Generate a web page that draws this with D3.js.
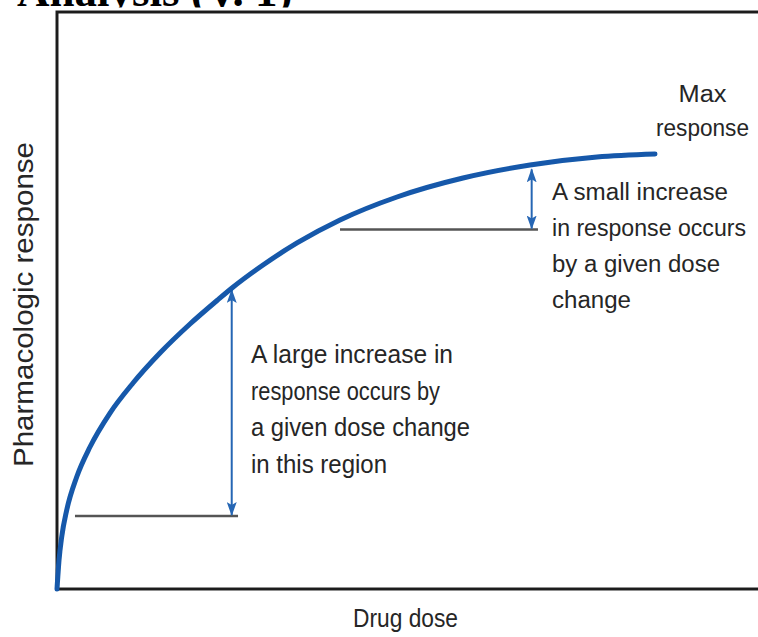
<!DOCTYPE html>
<html>
<head>
<meta charset="utf-8">
<script src="https://cdn.jsdelivr.net/npm/d3@7"></script>
<style>
  html, body { margin: 0; padding: 0; background: #fff; }
  svg { display: block; }
  text { font-family: "Liberation Sans", Arial, sans-serif; fill: #262626; }
</style>
</head>
<body>
<svg id="chart" width="758" height="637"></svg>
<script>
// ---- data (dose and response in arbitrary units 0..100) ----
const doses     = [0, 0.29, 0.67, 1.39, 2.81, 4.71, 7.57, 10.86, 14.71, 19.0, 22.86, 25.0, 29.43, 34.29, 40.43, 48.57, 58.0, 67.57, 77.14, 85.43];
const responses = [0, 5.03, 9.01, 13.69, 19.41, 24.61, 30.5, 35.7, 40.9, 45.93, 50.0, 52.17, 56.15, 59.97, 63.95, 67.94, 71.23, 73.48, 74.87, 75.39];

// reference dose-change segments
const lowDoseRange = [2.57, 25.86];
const lowBase = 12.65, lowArrowDose = 24.96, lowTop = 52.0;
const highDoseRange = [40.43, 68.71];
const highBase = 62.3, highArrowDose = 67.81, highTop = 72.9;

const titleText = "Analysis (V. 1)";
const xLabel = "Drug dose";
const yLabel = "Pharmacologic response";
const maxLabel = ["Max", "response"];
const smallLabel = ["A small increase", "in response occurs", "by a given dose", "change"];
const largeLabel = ["A large increase in", "response occurs by", "a given dose change", "in this region"];
// rendered widths of each label line in the reference (px)
const maxWidths = [48, 93];
const smallWidths = [176, 194, 168, 79];
const largeWidths = [202, 189, 219, 136];

// ---- drawing ----
(function () {
const svg = d3.select("#chart");
const W = 758, H = 637;
const mLeft = 57, mTop = 12, mBottom = 589, mRight = 757;

const x = d3.scaleLinear().domain([0, 100]).range([mLeft, mRight]);
const y = d3.scaleLinear().domain([0, 100]).range([mBottom, mTop]);

// title fragment (clipped at top)
svg.append("text")
  .attr("x", 17).attr("y", 6)
  .style("font-family", "'Liberation Serif', 'Times New Roman', serif")
  .style("font-size", "45px").style("font-weight", "bold")
  .style("fill", "#000")
  .text(titleText);
svg.append("rect").attr("x", 0).attr("y", 7.5).attr("width", W).attr("height", H).attr("fill", "#fff");

const defs = svg.append("defs");
defs.append("filter").attr("id", "soft")
  .append("feGaussianBlur").attr("stdDeviation", 0.5);
defs.append("marker")
  .attr("id", "ah").attr("viewBox", "0 0 14 10")
  .attr("refX", 13).attr("refY", 5)
  .attr("markerWidth", 7).attr("markerHeight", 5)
  .attr("markerUnits", "strokeWidth")
  .attr("orient", "auto-start-reverse")
  .append("path").attr("d", "M0,0 L14,5 L0,10 L3,5 Z").attr("fill", "#2566b4");

// frame
svg.append("path")
  .attr("d", `M${W + 5},${mTop} L${mLeft},${mTop} L${mLeft},${mBottom} L${W + 5},${mBottom}`)
  .attr("fill", "none").attr("stroke", "#1e1e1e").attr("stroke-width", 3)
  .attr("filter", "url(#soft)");

// gray baselines
const g = svg.append("g").attr("filter", "url(#soft)");
g.append("line")
  .attr("x1", x(lowDoseRange[0])).attr("x2", x(lowDoseRange[1]))
  .attr("y1", y(lowBase)).attr("y2", y(lowBase))
  .attr("stroke", "#555").attr("stroke-width", 2.5);
g.append("line")
  .attr("x1", x(highDoseRange[0])).attr("x2", x(highDoseRange[1]))
  .attr("y1", y(highBase)).attr("y2", y(highBase))
  .attr("stroke", "#555").attr("stroke-width", 2.5);

// blue arrows
g.append("line")
  .attr("x1", x(lowArrowDose)).attr("x2", x(lowArrowDose))
  .attr("y1", y(lowBase) - 1).attr("y2", y(lowTop) + 1)
  .attr("stroke", "#2566b4").attr("stroke-width", 2)
  .attr("marker-start", "url(#ah)").attr("marker-end", "url(#ah)");
g.append("line")
  .attr("x1", x(highArrowDose)).attr("x2", x(highArrowDose))
  .attr("y1", y(highBase) - 1).attr("y2", y(highTop) + 1)
  .attr("stroke", "#2566b4").attr("stroke-width", 2)
  .attr("marker-start", "url(#ah)").attr("marker-end", "url(#ah)");

// curve
const pts = doses.map((d, i) => [d, responses[i]]);
const line = d3.line().x(d => x(d[0])).y(d => y(d[1])).curve(d3.curveMonotoneX);
svg.append("path")
  .attr("d", line(pts))
  .attr("fill", "none").attr("stroke", "#1459aa")
  .attr("stroke-width", 5).attr("stroke-linecap", "round")
  .attr("filter", "url(#soft)");

// texts
function block(lines, widths, x0, y0, dy, fs, anchor) {
  const t = svg.append("g");
  lines.forEach((s, i) => {
    t.append("text").attr("x", x0).attr("y", y0 + i * dy)
      .attr("text-anchor", anchor || "start")
      .attr("textLength", widths[i]).attr("lengthAdjust", "spacingAndGlyphs")
      .style("font-size", fs + "px").text(s);
  });
  return t;
}
block(maxLabel, maxWidths, 702.5, 102, 34, 23.5, "middle");
block(smallLabel, smallWidths, 552, 200, 36, 23.5);
block(largeLabel, largeWidths, 251, 363, 36.7, 25.5);

svg.append("text").attr("x", 405.5).attr("y", 627)
  .attr("text-anchor", "middle")
  .attr("textLength", 105).attr("lengthAdjust", "spacingAndGlyphs")
  .style("font-size", "26px").text(xLabel);

svg.append("text")
  .attr("transform", `translate(33,${(467 + 142) / 2}) rotate(-90)`)
  .attr("text-anchor", "middle")
  .attr("textLength", 325).attr("lengthAdjust", "spacingAndGlyphs")
  .style("font-size", "27px").text(yLabel);
})();
</script>
</body>
</html>
